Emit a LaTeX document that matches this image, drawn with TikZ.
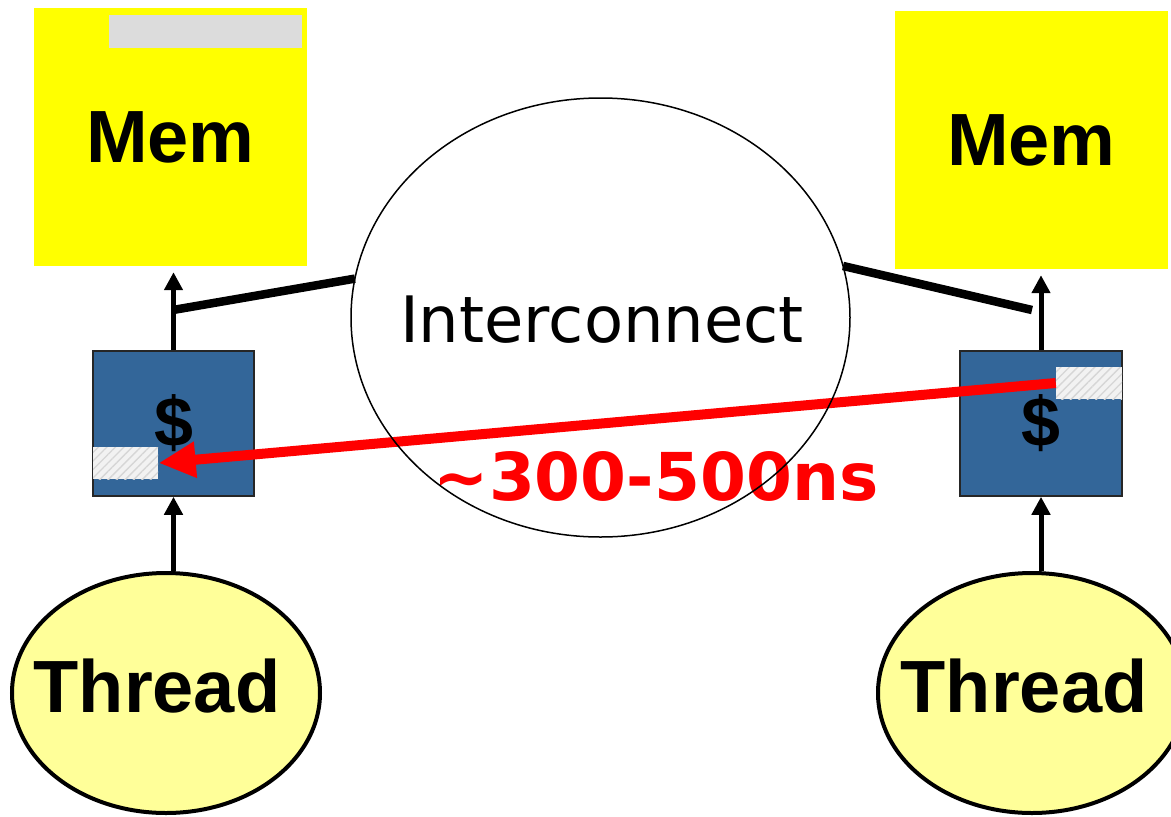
\documentclass[tikz,border=0pt]{standalone}
\usepackage{fontspec}
\setmainfont{Liberation Sans}
\newfontfamily\dejavu{DejaVu Sans}
\usetikzlibrary{arrows.meta,shapes.geometric,patterns.meta}

\definecolor{memyellow}{HTML}{FFFF00}
\definecolor{cacheblue}{HTML}{336699}
\definecolor{threadyellow}{HTML}{FFFF99}
\definecolor{bargray}{HTML}{DCDCDC}
\definecolor{latred}{HTML}{FF0000}

\pgfdeclarelayer{front}
\pgfsetlayers{main,front}

\tikzset{
  membox/.style={rectangle, fill=memyellow, inner sep=0pt, minimum width=273pt, minimum height=258pt,
    font=\bfseries\fontsize{74}{74}\selectfont},
  cachebox/.style={rectangle, fill=cacheblue, draw=black!85, line width=1.5pt, inner sep=0pt,
    minimum width=161pt, minimum height=145pt, font=\bfseries\fontsize{70}{70}\selectfont},
  lineslot/.style={rectangle, inner sep=0pt, minimum width=65pt, minimum height=32pt,
    preaction={fill=black!5}, pattern={Lines[angle=45,distance=6pt,line width=1.3pt]}, pattern color=black!16},
  threadshape/.style={ellipse, draw=black, line width=4pt, fill=threadyellow, inner sep=0pt,
    minimum width=308pt, minimum height=240pt},
  threadtext/.style={font=\bfseries\fontsize{74}{74}\selectfont},
  netshape/.style={ellipse, draw=black, line width=1.5pt, inner sep=0pt, outer sep=0pt,
    minimum width=499pt, minimum height=439pt},
  nettext/.style={inner sep=0pt, font=\dejavu\fontsize{64}{64}\selectfont},
  uparrow/.style={draw=black, line width=5pt, -{Triangle[length=18pt,width=18pt]}},
  bus/.style={draw=black, line width=8.5pt},
  latency/.style={draw=latred, line width=10pt, -{Triangle[length=37pt,width=34pt]}},
  latlabel/.style={text=latred, inner sep=0pt, font=\dejavu\bfseries\fontsize{66}{66}\selectfont}
}

\begin{document}
\begin{tikzpicture}[x=1pt,y=-1pt]
\useasboundingbox (0,0) rectangle (1171,817);

% memories
\node[membox] (memL) at (170.5,137) {Mem};
\node[rectangle, fill=bargray, inner sep=0pt, minimum width=193pt, minimum height=33pt] (barL) at (205.5,31.5) {};
\node[membox] (memR) at (1031.5,140) {Mem};

% caches with their lines
\node[cachebox] (cacheL) at (173.5,423.5) {\$};
\node[cachebox, minimum width=162pt] (cacheR) at (1041,423.5) {\$};
\node[lineslot] (slotL) at (125.5,463) {};
\node[lineslot, minimum width=66pt] (slotR) at (1089,383) {};

% threads
\node[threadshape] (thL) at (166,693) {};
\node[threadtext] (thLtext) at (157,686) {Thread};
\node[threadshape] (thR) at (1032,693) {};
\node[threadtext] (thRtext) at (1024,686) {Thread};

% interconnect, drawn above everything else
\begin{pgfonlayer}{front}
\node[netshape] (ic) at (600.5,317.5) {};
\end{pgfonlayer}
\node[nettext] (ictext) at (602,320) {Interconnect};

% thread -> cache -> memory
\draw[uparrow] (cacheL.south |- thL.north) -- (cacheL.south);
\draw[uparrow] (cacheR.south |- thR.north) -- (cacheR.south);
\draw[uparrow, shorten >=6pt] (cacheL.north) -- (cacheL.north |- memL.south);
\draw[uparrow, shorten >=6pt] (cacheR.north) -- (cacheR.north |- memR.south);

% taps onto the interconnect
\coordinate (tapL) at (173,310);
\coordinate (tapR) at (1032,310);
\draw[bus] (tapL) -- (ic.171);
\draw[bus] (ic.12) -- (tapR);

% remote cache-line transfer
\draw[latency] (slotR.west) -- (slotL.east);
\node[latlabel, anchor=base] (lat) at (656,500) {\textasciitilde300-500ns};
\end{tikzpicture}
\end{document}
